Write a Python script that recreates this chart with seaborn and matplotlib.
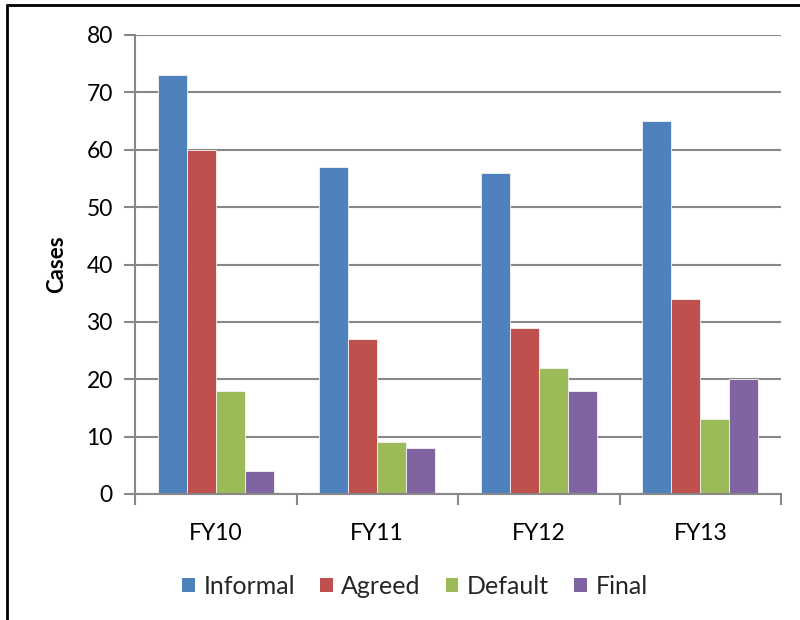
import matplotlib
matplotlib.use("Agg")
import matplotlib.pyplot as plt
from matplotlib.lines import Line2D
from matplotlib.patches import Patch
import seaborn as sns
import pandas as pd

categories = ["FY10", "FY11", "FY12", "FY13"]
series_names = ["Informal", "Agreed", "Default", "Final"]
informal = [73, 57, 56, 65]
agreed = [60, 27, 29, 34]
default = [18, 9, 22, 13]
final = [4, 8, 18, 20]
colors = ["#4F81BD", "#C0504D", "#9BBB59", "#8064A2"]
y_ticks = [0, 10, 20, 30, 40, 50, 60, 70, 80]

rows = []
for name, vals in zip(series_names, [informal, agreed, default, final]):
    for c, v in zip(categories, vals):
        rows.append({"Year": c, "Series": name, "Cases": v})
df = pd.DataFrame(rows)

sns.set_theme(style="white")
plt.rcParams["font.family"] = ["Lato", "DejaVu Sans"]

fig = plt.figure(figsize=(8, 6.2), dpi=100)
ax = fig.add_axes([135/800, 1-494/620, (781-135)/800, (494-35)/620])

sns.barplot(data=df, x="Year", y="Cases", hue="Series", order=categories,
            hue_order=series_names, palette=colors, width=0.72, gap=0,
            saturation=1, linewidth=0.6, edgecolor="#f4f4f4", ax=ax, legend=False)

ax.set_ylim(0, 80)
ax.set_xlim(-0.5, 3.5)
ax.set_yticks(y_ticks)
ax.set_yticklabels([str(t) for t in y_ticks], fontsize=16.5, color="#000000")
ax.yaxis.grid(True, color="#888888", linewidth=1.5)
ax.set_axisbelow(True)
ax.set_xlabel("")
ax.set_ylabel("Cases", fontsize=16, fontweight="bold", color="#000000", labelpad=14)

ax.set_xticks(range(len(categories)))
ax.set_xticklabels(categories, fontsize=16.5, color="#000000")
ax.set_xticks([-0.5, 0.5, 1.5, 2.5, 3.5], minor=True)
ax.tick_params(axis="x", which="major", length=0, pad=21)
ax.tick_params(axis="x", which="minor", length=8, width=1.5, color="#888888", direction="out", bottom=True)
ax.tick_params(axis="y", which="major", length=8, width=1.5, color="#888888", direction="out", left=True, pad=8)

for s in ["top", "right"]:
    ax.spines[s].set_visible(False)
for s in ["left", "bottom"]:
    ax.spines[s].set_color("#888888")
    ax.spines[s].set_linewidth(1.5)

handles = [Patch(facecolor=c, edgecolor="none") for c in colors]
fig.legend(handles, series_names, loc="center", bbox_to_anchor=(415/800, 1-586/620),
           ncol=4, frameon=False, fontsize=18, handlelength=0.5, handleheight=0.5,
           handletextpad=0.35, columnspacing=1.0)

fig.add_artist(Line2D([7/800, 7/800], [0, 1-5/620], transform=fig.transFigure, color="black", linewidth=2))
fig.add_artist(Line2D([7/800, 1], [1-5/620, 1-5/620], transform=fig.transFigure, color="black", linewidth=2))

fig.savefig("out.png", dpi=100)
